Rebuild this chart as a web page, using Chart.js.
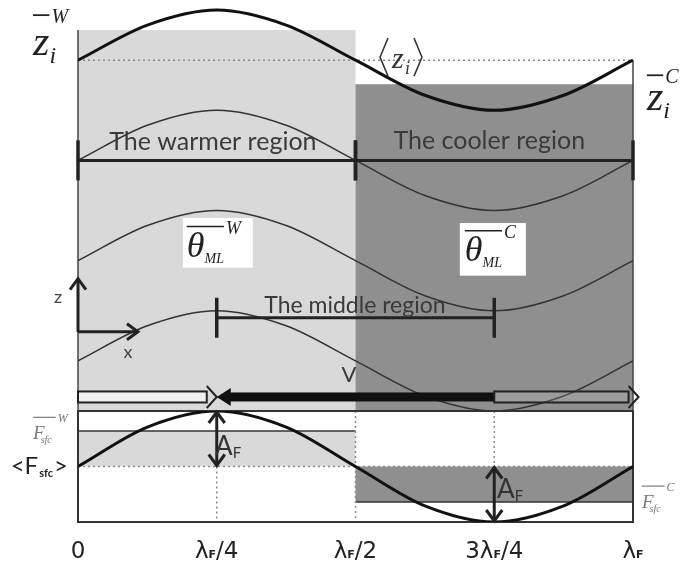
<!DOCTYPE html>
<html>
<head>
<meta charset="utf-8">
<title>Mixed layer over a surface forcing wave</title>
<script src="https://cdn.jsdelivr.net/npm/chart.js@4.4.1/dist/chart.umd.min.js"></script>
<style>
  html, body { margin: 0; padding: 0; background: #fff; }
  canvas { display: block; }
</style>
</head>
<body>
<canvas id="chart" width="680" height="563"></canvas>
<script>
// position along one forcing wavelength (fraction of lambda_F)
const phase = [0, 0.125, 0.25, 0.375, 0.5, 0.625, 0.75, 0.875, 1];

// inversion height z_i (upper panel)
const ziHeight = [3.5, 3.85, 4.0, 3.85, 3.5, 3.15, 3.0, 3.15, 3.5];
// mixed-layer isentropes
const thetaTop = [2.5, 2.85, 3.0, 2.85, 2.5, 2.15, 2.0, 2.15, 2.5];
const thetaMid = [1.5, 1.85, 2.0, 1.85, 1.5, 1.15, 1.0, 1.15, 1.5];
const thetaLow = [0.5, 0.85, 1.0, 0.85, 0.5, 0.15, 0.0, 0.15, 0.5];
// surface flux, in units of A_F (lower panel)
const surfaceFlux = [0, 0.71, 1, 0.71, 0, -0.71, -1, -0.71, 0];

// averages
const ziMean = 3.5;
const ziWarm = 3.8;
const ziCool = 3.26;
const fluxMean = 0;
const fluxWarm = 0.64;
const fluxCool = -0.64;
const fluxAmp = 1;

// region bars: label, start, end, height
const regionNames = ['The warmer region', 'The cooler region', 'The middle region'];
const regionStart = [0, 0.5, 0.25];
const regionEnd = [0.5, 1, 0.75];
const regionLevel = [2.5, 2.5, 0.93];

// wind arrows near the surface
const windFrom = [0, 0.75, 0.75];
const windTo = [0.25, 0.25, 1.01];
const windLevel = 0.14;

// x tick labels: lead text, subscript, tail
const tickPos = [0, 0.25, 0.5, 0.75, 1];
const tickLead = ['0', '\u03bb', '\u03bb', '3\u03bb', '\u03bb'];
const tickSub = ['', 'F', 'F', 'F', 'F'];
const tickTail = ['', '/4', '/2', '/4', ''];

const LIGHT = '#d9d9d9';
const DARK = '#8f8f8f';
const INK = '#222';
const SERIF = '"Liberation Serif", "DejaVu Serif", serif';
const SANS = 'Lato, "Open Sans", sans-serif';

function pts(ys) {
  return phase.map((x, i) => ({ x: x, y: ys[i] }));
}

function line(ctx, x1, y1, x2, y2) {
  ctx.beginPath(); ctx.moveTo(x1, y1); ctx.lineTo(x2, y2); ctx.stroke();
}

// open chevron arrow head at (x, y) pointing along angle a
function chevron(ctx, x, y, a, len, half) {
  const c = Math.cos(a), s = Math.sin(a);
  ctx.beginPath();
  ctx.moveTo(x - c * len - s * half, y - s * len + c * half);
  ctx.lineTo(x, y);
  ctx.lineTo(x - c * len + s * half, y - s * len - c * half);
  ctx.stroke();
}

// overlined symbol with subscript and superscript
function barSymbol(ctx, x, y, o) {
  ctx.save();
  ctx.fillStyle = o.color || INK;
  ctx.strokeStyle = o.color || INK;
  ctx.textAlign = 'left';
  ctx.textBaseline = 'alphabetic';
  ctx.font = 'italic ' + o.size + 'px ' + SERIF;
  const wb = ctx.measureText(o.base).width;
  ctx.fillText(o.base, x, y);
  ctx.font = 'italic ' + o.subSize + 'px ' + SERIF;
  const ws = ctx.measureText(o.sub).width;
  ctx.fillText(o.sub, x + wb + (o.subGap || 0), y + o.subDrop);
  const barY = y - o.rise;
  const barEnd = x + (o.barAll ? wb + ws : wb) + (o.barExtra || 0);
  ctx.lineWidth = o.barWidth || 1.5;
  line(ctx, x + (o.barStart || 0), barY, barEnd, barY);
  ctx.font = 'italic ' + o.supSize + 'px ' + SERIF;
  ctx.fillText(o.sup, barEnd + 2, barY + o.supSize * 0.4);
  ctx.restore();
}

const schematic = {
  id: 'schematic',
  beforeDatasetsDraw(chart) {
    const ctx = chart.ctx;
    const X = v => chart.scales.x.getPixelForValue(v);
    const T = v => chart.scales.yTop.getPixelForValue(v);
    const B = v => chart.scales.yBot.getPixelForValue(v);
    ctx.save();
    // upper panel: warm and cool columns
    ctx.fillStyle = LIGHT;
    ctx.fillRect(X(0), T(ziWarm), X(0.5) - X(0), T(0) - T(ziWarm));
    ctx.fillStyle = DARK;
    ctx.fillRect(X(0.5), T(ziCool), X(1) - X(0.5), T(0) - T(ziCool));
    // lower panel: flux anomalies
    ctx.fillStyle = LIGHT;
    ctx.fillRect(X(0), B(fluxWarm), X(0.5) - X(0), B(fluxMean) - B(fluxWarm));
    ctx.fillStyle = DARK;
    ctx.fillRect(X(0.5), B(fluxMean), X(1) - X(0.5), B(fluxCool) - B(fluxMean));
    ctx.strokeStyle = '#333';
    ctx.lineWidth = 1.5;
    line(ctx, X(0), B(fluxWarm), X(0.5), B(fluxWarm));
    line(ctx, X(0.5), B(fluxCool), X(1), B(fluxCool));

    // dotted means and quarter-wave guides
    ctx.strokeStyle = '#8a8a8a';
    ctx.setLineDash([2, 3]);
    ctx.lineWidth = 1.5;
    line(ctx, X(0), T(ziMean), X(1), T(ziMean));
    line(ctx, X(0), B(fluxMean), X(1), B(fluxMean));
    line(ctx, X(0.25), B(fluxMean), X(0.25), B(-1));
    line(ctx, X(0.5), B(1), X(0.5), B(-1));
    line(ctx, X(0.75), B(1), X(0.75), B(fluxMean));
    ctx.setLineDash([]);

    // panel edges
    ctx.strokeStyle = '#444';
    ctx.lineWidth = 1.5;
    line(ctx, X(0), T(ziWarm), X(0), T(0));
    line(ctx, X(1), T(ziMean), X(1), T(0));
    ctx.strokeStyle = '#333';
    ctx.lineWidth = 2;
    ctx.strokeRect(X(0), B(1), X(1) - X(0), B(-1) - B(1));
    ctx.restore();
  },
  afterDatasetsDraw(chart) {
    const ctx = chart.ctx;
    const X = v => chart.scales.x.getPixelForValue(v);
    const T = v => chart.scales.yTop.getPixelForValue(v);
    const B = v => chart.scales.yBot.getPixelForValue(v);
    ctx.save();

    // region bars with end ticks
    ctx.strokeStyle = INK;
    regionNames.forEach((name, i) => {
      const y = T(regionLevel[i]);
      ctx.lineWidth = 3;
      line(ctx, X(regionStart[i]), y, X(regionEnd[i]), y);
      ctx.lineWidth = 3.5;
      line(ctx, X(regionStart[i]), y - 20, X(regionStart[i]), y + 20);
      line(ctx, X(regionEnd[i]), y - 20, X(regionEnd[i]), y + 20);
    });
    ctx.fillStyle = '#3a3a3a';
    ctx.textAlign = 'center';
    ctx.textBaseline = 'alphabetic';
    ctx.font = '25px ' + SANS;
    ctx.fillText(regionNames[0], X(0.243), T(2.6));
    ctx.fillText(regionNames[1], X(0.741), T(2.61));
    ctx.font = '23px ' + SANS;
    ctx.fillText(regionNames[2], X(0.499), T(0.98));
    ctx.font = '22px ' + SANS;
    ctx.fillText('V', X(0.488), T(0.29));

    // wind arrows: open ones outward, solid one back toward lambda/4
    const wy = T(windLevel);
    windFrom.forEach((from, i) => {
      const x1 = X(from), x2 = X(windTo[i]);
      const dir = Math.sign(x2 - x1);
      ctx.lineWidth = 2;
      ctx.strokeStyle = INK;
      if (i === 1) {
        ctx.fillStyle = '#111';
        ctx.fillRect(Math.min(x1, x2 + 12), wy - 4.5, Math.abs(x2 - x1) - 12, 9);
        ctx.beginPath();
        ctx.moveTo(x2, wy);
        ctx.lineTo(x2 + 14, wy - 9);
        ctx.lineTo(x2 + 14, wy + 9);
        ctx.closePath();
        ctx.fill();
      } else {
        const neck = x2 - dir * 10;
        ctx.fillStyle = i === 0 ? 'rgba(255,255,255,0.6)' : 'rgba(255,255,255,0.12)';
        ctx.fillRect(Math.min(x1, neck), wy - 5.5, Math.abs(neck - x1), 11);
        ctx.strokeRect(Math.min(x1, neck), wy - 5.5, Math.abs(neck - x1), 11);
        ctx.beginPath();
        ctx.moveTo(neck, wy - 11);
        ctx.lineTo(x2, wy);
        ctx.lineTo(neck, wy + 11);
        ctx.stroke();
      }
    });

    // coordinate arrows
    ctx.strokeStyle = INK;
    ctx.lineWidth = 3;
    const ox = X(0), oy = T(0.79);
    line(ctx, ox, oy, ox, T(1.32));
    chevron(ctx, ox, T(1.32), -Math.PI / 2, 11, 8);
    line(ctx, ox, oy, X(0.108), oy);
    chevron(ctx, X(0.108), oy, 0, 11, 8);
    ctx.fillStyle = '#444';
    ctx.font = '18px ' + SANS;
    ctx.fillText('z', X(-0.036), T(1.08));
    ctx.fillText('x', X(0.09), T(0.53));

    // theta_ML boxes
    ctx.fillStyle = '#fff';
    ctx.fillRect(X(0.189), T(1.925), X(0.315) - X(0.189), T(1.43) - T(1.925));
    ctx.fillRect(X(0.688), T(1.875), X(0.807) - X(0.688), T(1.35) - T(1.875));
    const thetaStyle = { base: '\u03b8', sub: 'ML', size: 36, subSize: 14, subDrop: 6, subGap: 0,
      rise: 30, barAll: true, barWidth: 1.5, supSize: 18 };
    barSymbol(ctx, X(0.196), T(1.54), Object.assign({ sup: 'W' }, thetaStyle));
    barSymbol(ctx, X(0.697), T(1.50), Object.assign({ sup: 'C' }, thetaStyle));

    // inversion labels
    const ziStyle = { base: 'z', sub: 'i', size: 42, subSize: 24, subDrop: 8, rise: 40,
      barAll: false, barWidth: 1.8, supSize: 20 };
    barSymbol(ctx, X(-0.081), T(3.55), Object.assign({ sup: 'W' }, ziStyle));
    barSymbol(ctx, X(1.025), T(3.0), Object.assign({ sup: 'C' }, ziStyle, { rise: 35 }));

    // <z_i>
    const mx = X(0.582), my = T(3.53);
    ctx.strokeStyle = '#333';
    ctx.lineWidth = 1.5;
    ctx.beginPath();
    ctx.moveTo(mx - 13, my - 19); ctx.lineTo(mx - 21, my); ctx.lineTo(mx - 13, my + 19);
    ctx.moveTo(mx + 13, my - 19); ctx.lineTo(mx + 21, my); ctx.lineTo(mx + 13, my + 19);
    ctx.stroke();
    ctx.fillStyle = '#333';
    ctx.font = 'italic 30px ' + SERIF;
    ctx.textAlign = 'left';
    ctx.fillText('z', mx - 9, my + 11);
    ctx.font = 'italic 18px ' + SERIF;
    ctx.fillText('i', mx + 4, my + 17);

    // amplitude arrows
    ctx.strokeStyle = INK;
    ctx.lineWidth = 3;
    [[0.25, fluxMean, fluxAmp], [0.75, -fluxAmp, fluxMean]].forEach(a => {
      const x = X(a[0]), y1 = B(a[1]), y2 = B(a[2]);
      line(ctx, x, y1, x, y2);
      chevron(ctx, x, y2 + 1, -Math.PI / 2, 11, 8);
      chevron(ctx, x, y1 - 1, Math.PI / 2, 11, 8);
    });
    const amp = (x, y) => {
      ctx.fillStyle = '#333';
      ctx.font = '26px ' + SANS;
      ctx.textAlign = 'left';
      ctx.fillText('A', x, y);
      const w = ctx.measureText('A').width;
      ctx.font = '15px ' + SANS;
      ctx.fillText('F', x + w, y + 3);
    };
    amp(X(0.247), B(0.2));
    amp(X(0.755), B(-0.56));

    // flux labels
    const fStyle = { base: 'F', sub: 'sfc', size: 19, subSize: 10, subDrop: 4, subGap: -4,
      rise: 22, barAll: true, barWidth: 1.2, supSize: 12, color: '#7a7a7a' };
    barSymbol(ctx, X(-0.081), B(0.49), Object.assign({ sup: 'W' }, fStyle));
    barSymbol(ctx, X(1.016), B(-0.75), Object.assign({ sup: 'C' }, fStyle));

    // <F_sfc>
    ctx.fillStyle = INK;
    ctx.textAlign = 'right';
    ctx.textBaseline = 'middle';
    let rx = X(-0.018);
    const fy = B(fluxMean);
    ctx.font = '24px ' + SANS;
    ctx.fillText('>', rx, fy);
    rx -= ctx.measureText('>').width + 1;
    ctx.font = 'bold 11px ' + SANS;
    ctx.fillText('sfc', rx, fy + 7);
    rx -= ctx.measureText('sfc').width + 1;
    ctx.font = '24px ' + SANS;
    ctx.fillText('<F', rx, fy);

    // x tick labels
    ctx.textBaseline = 'alphabetic';
    ctx.textAlign = 'left';
    const ty = chart.chartArea.bottom + 36;
    tickPos.forEach((p, i) => {
      ctx.font = '23px "DejaVu Sans", sans-serif';
      const w1 = ctx.measureText(tickLead[i]).width;
      const w3 = ctx.measureText(tickTail[i]).width;
      ctx.font = 'bold 11px "DejaVu Sans", sans-serif';
      const w2 = ctx.measureText(tickSub[i]).width;
      let x = X(p) - (w1 + w2 + w3) / 2;
      ctx.fillStyle = '#222';
      ctx.font = '23px "DejaVu Sans", sans-serif';
      ctx.fillText(tickLead[i], x, ty);
      ctx.font = 'bold 11px "DejaVu Sans", sans-serif';
      ctx.fillText(tickSub[i], x + w1, ty);
      ctx.font = '23px "DejaVu Sans", sans-serif';
      ctx.fillText(tickTail[i], x + w1 + w2, ty);
    });
    ctx.restore();
  }
};

const topLine = (data, width, color) => ({
  data: pts(data), xAxisID: 'x', yAxisID: 'yTop', borderColor: color, borderWidth: width,
  pointRadius: 0, cubicInterpolationMode: 'monotone', fill: false
});

new Chart(document.getElementById('chart'), {
  type: 'line',
  data: {
    datasets: [
      topLine(ziHeight, 3, '#111'),
      topLine(thetaTop, 1.5, '#333'),
      topLine(thetaMid, 1.5, '#333'),
      topLine(thetaLow, 1.5, '#333'),
      {
        data: pts(surfaceFlux), xAxisID: 'x', yAxisID: 'yBot', borderColor: '#111', borderWidth: 3,
        pointRadius: 0, cubicInterpolationMode: 'monotone', fill: false
      }
    ]
  },
  options: {
    responsive: false,
    animation: false,
    layout: { padding: { left: 78, right: 47, top: 0, bottom: 41 } },
    plugins: { legend: { display: false }, tooltip: { enabled: false } },
    scales: {
      x: { type: 'linear', min: 0, max: 1, display: false },
      // stacked panels: the axis listed first ends up at the bottom
      yBot: { type: 'linear', position: 'left', stack: 'panels', stackWeight: 111, min: -1, max: 1, display: false },
      yTop: { type: 'linear', position: 'left', stack: 'panels', stackWeight: 411, min: 0, max: 4.1, display: false }
    }
  },
  plugins: [schematic]
});
</script>
</body>
</html>
